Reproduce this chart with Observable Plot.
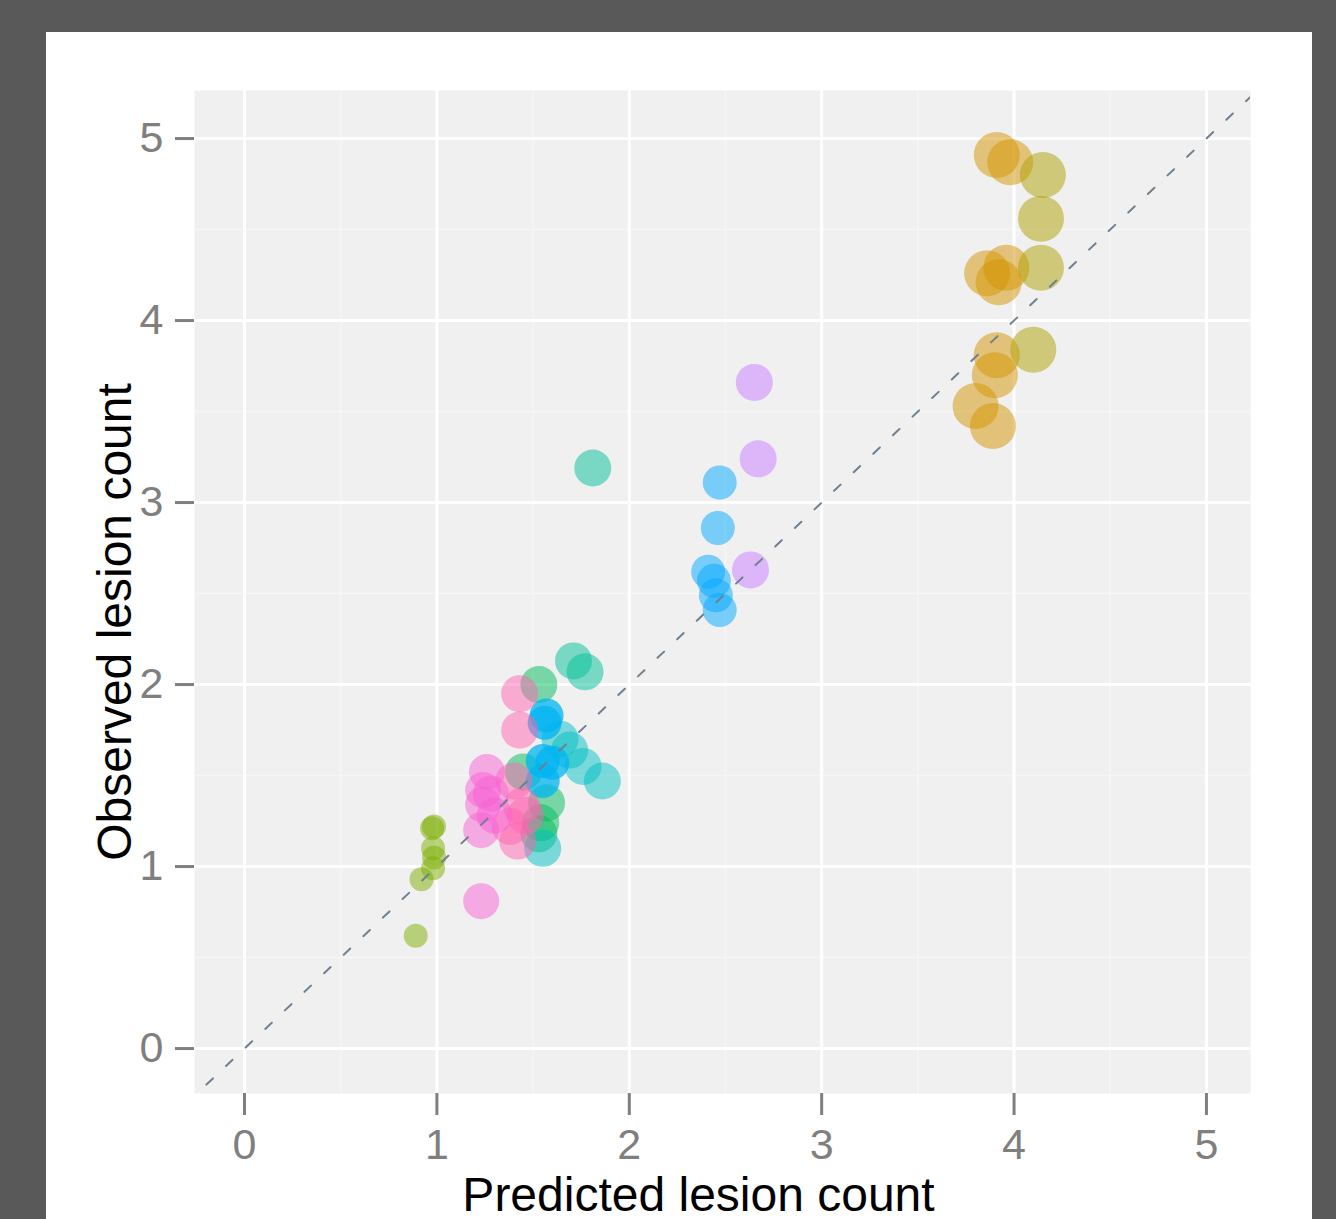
<!DOCTYPE html>
<html><head><meta charset="utf-8">
<script src="https://cdn.jsdelivr.net/npm/d3@7"></script>
<script src="https://cdn.jsdelivr.net/npm/@observablehq/plot@0.6"></script>
<style>
html,body{margin:0;padding:0;background:#595959;width:1336px;height:1219px;overflow:hidden}
#panel{position:absolute;left:46px;top:32px;width:1266px;height:1187px;background:#ffffff}
</style></head><body><div id="panel"></div>
<script>
// ---- data ----
const xTicks = [0, 1, 2, 3, 4, 5];
const yTicks = [0, 1, 2, 3, 4, 5];
const minorTicks = [0.5, 1.5, 2.5, 3.5, 4.5];
const xTitle = "Predicted lesion count";
const yTitle = "Observed lesion count";
const identityLine = [-0.3, 5.3];

const groupNames = ["salmon", "gold", "olive", "lime", "green", "seagreen", "teal", "blue", "skyblue", "purple", "pink", "magenta"];

const salmonPred = [3.21, 3.15, 3.02, 3.26, 2.91, 3.08, 3.31, 2.87, 2.96];
const salmonObs  = [4.98, 3.75, 3.66, 3.25, 2.60, 2.60, 2.50, 1.84, 1.86];

const goldPred = [3.91, 3.98, 3.86, 3.96, 3.92, 3.91, 3.90, 3.80, 3.89];
const goldObs  = [4.91, 4.87, 4.26, 4.29, 4.21, 3.81, 3.70, 3.53, 3.42];

const olivePred = [4.15, 4.14, 4.14, 4.10];
const oliveObs  = [4.80, 4.56, 4.29, 3.84];

const limePred = [0.975, 0.985, 0.98, 0.985, 0.98, 0.92, 0.89];
const limeObs  = [1.21, 1.22, 1.10, 1.05, 0.99, 0.93, 0.62];

const greenPred = [1.53, 1.45, 1.57, 1.54, 1.53];
const greenObs  = [2.00, 1.52, 1.35, 1.24, 1.18];

const seagreenPred = [1.81, 1.71, 1.77];
const seagreenObs  = [3.19, 2.13, 2.07];

const tealPred = [1.64, 1.69, 1.76, 1.86, 1.55];
const tealObs  = [1.70, 1.64, 1.55, 1.47, 1.10];

const bluePred = [1.57, 1.56, 1.55, 1.60, 1.55];
const blueObs  = [1.83, 1.79, 1.58, 1.57, 1.47];

const skybluePred = [2.47, 2.46, 2.41, 2.44, 2.45, 2.47];
const skyblueObs  = [3.11, 2.86, 2.62, 2.57, 2.49, 2.41];

const purplePred = [2.65, 2.67, 2.63];
const purpleObs  = [3.66, 3.24, 2.63];

const pinkPred = [1.43, 1.43, 1.40, 1.44, 1.38, 1.42, 1.46];
const pinkObs  = [1.95, 1.75, 1.47, 1.33, 1.22, 1.14, 1.28];

const magentaPred = [1.26, 1.24, 1.28, 1.24, 1.23, 1.30, 1.23];
const magentaObs  = [1.52, 1.42, 1.40, 1.34, 1.20, 1.28, 0.81];

// ---- build table ----
const series = {
  salmon: [salmonPred, salmonObs], gold: [goldPred, goldObs], olive: [olivePred, oliveObs],
  lime: [limePred, limeObs], green: [greenPred, greenObs], seagreen: [seagreenPred, seagreenObs],
  teal: [tealPred, tealObs], blue: [bluePred, blueObs], skyblue: [skybluePred, skyblueObs],
  purple: [purplePred, purpleObs], pink: [pinkPred, pinkObs], magenta: [magentaPred, magentaObs]
};
const rows = groupNames.flatMap(g => series[g][0].map((p, i) => ({group: g, predicted: p, observed: series[g][1][i]})));

// ---- styles ----
const styles = {
  salmon:   {color: "#F8766D", r: 4,    op: 0.55, symbol: "plus"},
  gold:     {color: "#D49400", r: 23,   op: 0.5},
  olive:    {color: "#AEA000", r: 23,   op: 0.5},
  lime:     {color: "#7CAE00", r: 12,   op: 0.5},
  green:    {color: "#00BC5C", r: 18.5, op: 0.5},
  seagreen: {color: "#00C098", r: 18.5, op: 0.5},
  teal:     {color: "#00BFC4", r: 18.5, op: 0.5},
  blue:     {color: "#00B4F0", r: 17,   op: 0.75},
  skyblue:  {color: "#00A8FF", r: 17,   op: 0.5},
  purple:   {color: "#C77CFF", r: 18.5, op: 0.5},
  pink:     {color: "#FF64B0", r: 18.5, op: 0.5},
  magenta:  {color: "#F862D4", r: 18,   op: 0.5}
};

const dotMarks = groupNames.map(g => Plot.dot(rows.filter(d => d.group === g), {
  x: "predicted", y: "observed", r: styles[g].r, symbol: styles[g].symbol || "circle",
  fill: styles[g].color, fillOpacity: styles[g].op, stroke: "none"
}));

const chart = Plot.plot({
  width: 1266, height: 1187,
  marginTop: 58, marginLeft: 148, marginRight: 62, marginBottom: 126,
  style: {fontFamily: "'Liberation Sans', Arial, sans-serif", fontSize: "43px", color: "#7F7F7F", background: "transparent", overflow: "visible"},
  x: {domain: [-0.26, 5.229]},
  y: {domain: [-0.247, 5.264]},
  marks: [
    Plot.frame({fill: "#F0F0F0", stroke: "none"}),
    Plot.gridX({ticks: minorTicks, stroke: "#F6F6F6", strokeOpacity: 1, strokeWidth: 1.5}),
    Plot.gridY({ticks: minorTicks, stroke: "#F6F6F6", strokeOpacity: 1, strokeWidth: 1.5}),
    Plot.gridX({ticks: xTicks, stroke: "#FFFFFF", strokeOpacity: 1, strokeWidth: 3}),
    Plot.gridY({ticks: yTicks, stroke: "#FFFFFF", strokeOpacity: 1, strokeWidth: 3}),
    ...dotMarks,
    Plot.line(identityLine, {x: d => d, y: d => d, stroke: "#708090", strokeWidth: 2, strokeDasharray: "9 18", clip: true}),
    Plot.axisX({ticks: xTicks, tickSize: 22, tickPadding: 13, strokeWidth: 3, stroke: "#7F7F7F", fill: "#7F7F7F", fontSize: 43, label: null, tickFormat: d3.format("d")}),
    Plot.axisY({ticks: yTicks, tickSize: 19, tickPadding: 12, strokeWidth: 3, stroke: "#7F7F7F", fill: "#7F7F7F", fontSize: 43, label: null, tickFormat: d3.format("d")}),
    Plot.text([xTitle], {frameAnchor: "bottom", dx: -24, dy: 102, textAnchor: "middle", lineAnchor: "middle", fontSize: 48, fill: "#000000"}),
    Plot.text([yTitle], {frameAnchor: "left", rotate: -90, dx: -79, dy: 30, textAnchor: "middle", lineAnchor: "middle", fontSize: 48, fill: "#000000"})
  ]
});
document.getElementById("panel").appendChild(chart);
</script>
</body></html>
